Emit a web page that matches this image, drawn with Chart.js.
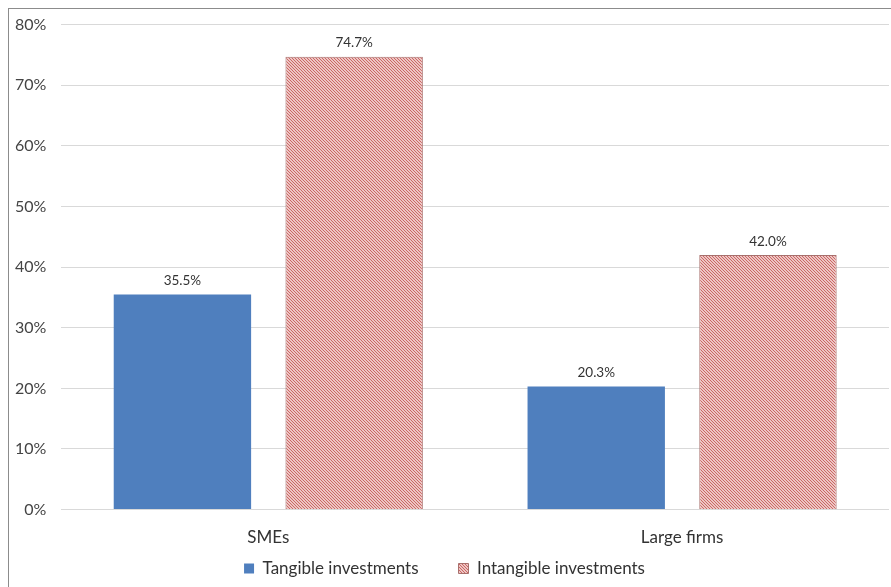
<!DOCTYPE html>
<html>
<head>
<meta charset="utf-8">
<script src="https://cdn.jsdelivr.net/npm/chart.js@4"></script>
<style>
    body { margin: 0; overflow: hidden; background: #fff; }
    #wrap { position: absolute; left: 0; top: 0; width: 891px; height: 587px; }
    #frame { position: absolute; left: 8px; top: 8px; width: 900px; height: 600px; border: 1px solid #8c8c8c; pointer-events: none; }
</style>
</head>
<body>
<div id="wrap"><canvas id="invest-chart"></canvas></div>
<div id="frame"></div>
<script>
    var categories = ["SMEs", "Large firms"];
    var tangible = [35.5, 20.3];
    var intangible = [74.7, 42.0];
    var yTicks = [0, 10, 20, 30, 40, 50, 60, 70, 80];

    // diagonal red hatch used for the intangible bars
    function hatch() {
        var c = document.createElement("canvas");
        c.width = 3;
        c.height = 3;
        var g = c.getContext("2d");
        g.fillStyle = "#fbeeee";
        g.fillRect(0, 0, 3, 3);
        g.strokeStyle = "#c9605c";
        g.lineWidth = 1.1;
        g.beginPath();
        g.moveTo(-1, -1); g.lineTo(4, 4);
        g.moveTo(-1, 2); g.lineTo(1, 4);
        g.moveTo(2, -1); g.lineTo(4, 1);
        g.stroke();
        return g.createPattern(c, "repeat");
    }

    // value labels above each bar
    var barLabels = {
        id: "barLabels",
        afterDatasetsDraw: function (chart) {
            var ctx = chart.ctx;
            ctx.save();
            ctx.font = "13.5px Lato";
            ctx.fillStyle = "#333";
            ctx.textAlign = "center";
            ctx.textBaseline = "bottom";
            chart.data.datasets.forEach(function (ds, i) {
                chart.getDatasetMeta(i).data.forEach(function (bar, j) {
                    ctx.fillText(ds.data[j].toFixed(1) + "%", bar.x, bar.y - 7);
                });
            });
            ctx.restore();
        }
    };

    // wide spacing between legend items but a short legend row
    var liftLegend = {
        id: "liftLegend",
        afterLayout: function (chart) {
            chart.legend.top -= 38;
            chart.legend.bottom -= 38;
        }
    };

    Chart.defaults.font.family = "Lato";
    Chart.defaults.color = "#404040";

    new Chart("invest-chart", {
        type: "bar",
        data: {
            labels: categories,
            datasets: [
                {
                    label: "Tangible investments",
                    data: tangible,
                    backgroundColor: "#4f7fbe",
                    borderWidth: 0
                },
                {
                    label: "Intangible investments",
                    data: intangible,
                    backgroundColor: hatch(),
                    borderColor: "#a8706d",
                    borderWidth: 1
                }
            ]
        },
        options: {
            responsive: true,
            maintainAspectRatio: false,
            animation: false,
            layout: { padding: { top: 14, right: 2, left: 0, bottom: -38 } },
            datasets: { bar: { categoryPercentage: 0.83, barPercentage: 0.8 } },
            plugins: {
                tooltip: { enabled: false },
                legend: {
                    position: "bottom",
                    labels: {
                        boxWidth: 10,
                        boxHeight: 10,
                        padding: 40,
                        color: "#333",
                        font: { size: 17 }
                    }
                }
            },
            scales: {
                x: {
                    grid: { display: false },
                    border: { display: false },
                    ticks: { font: { size: 17 }, color: "#333", padding: 10 }
                },
                y: {
                    min: 0,
                    max: 80,
                    afterBuildTicks: function (axis) {
                        axis.ticks = yTicks.map(function (v) { return { value: v }; });
                    },
                    grid: { color: "#d9d9d9", drawTicks: false },
                    border: { display: false },
                    ticks: {
                        padding: 15,
                        font: { size: 16 },
                        color: "#444",
                        callback: function (v) { return v + "%"; }
                    }
                }
            }
        },
        plugins: [barLabels, liftLegend]
    });
</script>
</body>
</html>
